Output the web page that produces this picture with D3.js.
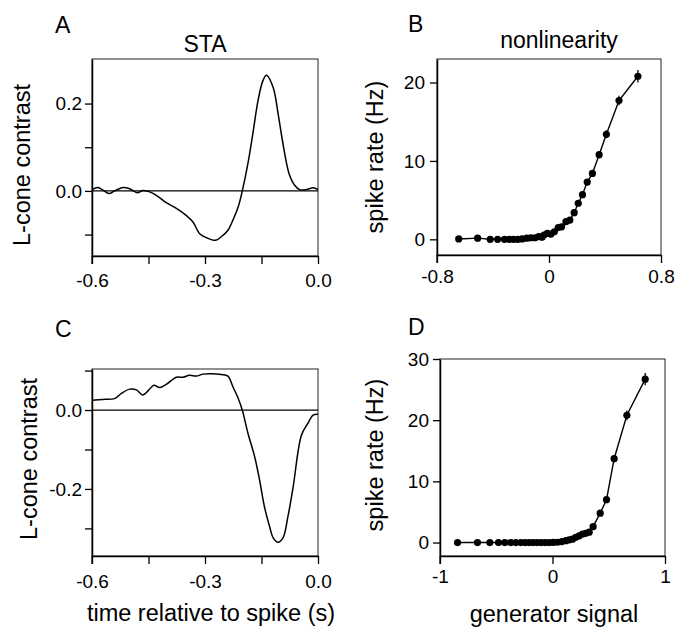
<!DOCTYPE html>
<html><head><meta charset="utf-8">
<script src="https://cdn.jsdelivr.net/npm/d3@7"></script>
<style>body{margin:0;background:#fff}svg{display:block}text{font-family:"Liberation Sans",Arial,Helvetica,sans-serif;fill:#000}</style>
</head><body>
<svg id="c" width="679" height="629"></svg>
<script>
// Panel A: STA (time s, L-cone contrast)
const staA_t = [-0.6,-0.584,-0.571,-0.555,-0.54,-0.518,-0.5,-0.48,-0.465,-0.451,-0.429,-0.403,-0.376,-0.35,-0.332,-0.314,-0.296,-0.272,-0.257,-0.239,-0.226,-0.212,-0.201,-0.186,-0.173,-0.159,-0.146,-0.137,-0.119,-0.106,-0.093,-0.077,-0.062,-0.049,-0.031,-0.013,0];
const staA_v = [0.003,0.008,0.002,-0.006,0,0.008,0.005,-0.004,0.001,-0.001,-0.01,-0.027,-0.04,-0.056,-0.071,-0.098,-0.107,-0.113,-0.105,-0.09,-0.067,-0.037,0,0.063,0.131,0.208,0.253,0.265,0.237,0.177,0.108,0.04,0.013,0.003,0.003,0.007,0.003];
// Panel C: STA
const staC_t = [-0.6,-0.571,-0.54,-0.522,-0.5,-0.482,-0.465,-0.449,-0.436,-0.42,-0.403,-0.376,-0.358,-0.341,-0.323,-0.305,-0.283,-0.257,-0.239,-0.226,-0.212,-0.201,-0.186,-0.168,-0.155,-0.142,-0.128,-0.119,-0.106,-0.093,-0.08,-0.066,-0.044,-0.027,-0.013,0];
const staC_v = [0.025,0.027,0.029,0.042,0.053,0.051,0.038,0.051,0.063,0.057,0.065,0.083,0.083,0.088,0.086,0.091,0.092,0.09,0.086,0.059,0.03,0,-0.059,-0.119,-0.178,-0.246,-0.297,-0.324,-0.335,-0.324,-0.271,-0.195,-0.064,-0.034,-0.013,-0.011];
// Panel B: nonlinearity
const nlB_x = [-0.645,-0.51,-0.42,-0.367,-0.318,-0.284,-0.254,-0.223,-0.192,-0.159,-0.13,-0.1,-0.073,-0.05,-0.036,-0.012,0.012,0.038,0.066,0.09,0.121,0.149,0.18,0.209,0.239,0.273,0.31,0.358,0.41,0.5,0.635];
const nlB_y = [0.05,0.15,0,0,0,0,0,0,0.05,0.15,0.2,0.2,0.35,0.25,0.55,0.75,0.65,0.95,1.5,1.6,2.25,2.45,3.4,4.6,5.7,7.3,8.4,10.8,13.4,17.7,20.8];
const nlB_err = [0.1,0.1,0.05,0.05,0.05,0.05,0.05,0.05,0.05,0.05,0.05,0.05,0.05,0.05,0.1,0.1,0.1,0.1,0.15,0.15,0.2,0.2,0.25,0.3,0.3,0.35,0.4,0.45,0.5,0.6,0.8];
// Panel D: nonlinearity
const nlD_x = [-0.844,-0.667,-0.557,-0.48,-0.424,-0.37,-0.326,-0.281,-0.243,-0.207,-0.172,-0.136,-0.1,-0.065,-0.03,0.006,0.044,0.083,0.119,0.148,0.178,0.207,0.237,0.267,0.296,0.326,0.361,0.424,0.48,0.548,0.661,0.824];
const nlD_y = [0,0,0,0,0,0,0,0,0,0,0,0,0,0,0,0.02,0.05,0.15,0.3,0.45,0.55,0.85,1.1,1.4,1.5,1.7,2.6,4.8,7.0,13.7,20.8,26.7];
const nlD_err = [0.05,0.05,0.05,0.05,0.05,0.05,0.05,0.05,0.05,0.05,0.05,0.05,0.05,0.05,0.05,0.05,0.05,0.1,0.1,0.1,0.15,0.15,0.2,0.2,0.2,0.25,0.3,0.4,0.5,0.6,0.8,1.0];
// Tick values / labels
const staXTicks = [-0.6,-0.45,-0.3,-0.15,0];
const staXLabels = ["-0.6","","-0.3","","0.0"];
const staAYTicks = [0.2,0.1,0,-0.1];
const staAYLabels = ["0.2","","0.0",""];
const staCYTicks = [0.1,0,-0.1,-0.2,-0.3];
const staCYLabels = ["","0.0","","-0.2",""];
const nlBXTicks = [-0.8,0,0.8]; const nlBXLabels = ["-0.8","0","0.8"];
const nlBYTicks = [0,10,20]; const nlBYLabels = ["0","10","20"];
const nlDXTicks = [-1,0,1]; const nlDXLabels = ["-1","0","1"];
const nlDYTicks = [0,10,20,30]; const nlDYLabels = ["0","10","20","30"];

const svg = d3.select("#c");

function frame(p){
  const g = svg.append("g");
  const x = d3.scaleLinear().domain(p.xd).range([p.x0,p.x1]);
  const y = d3.scaleLinear().domain(p.yd).range([p.y1,p.y0]);
  g.append("rect").attr("x",p.x0).attr("y",p.y0).attr("width",p.x1-p.x0).attr("height",p.y1-p.y0)
    .attr("fill","none").attr("stroke","#222").attr("stroke-width",1);
  const xa = d3.axisBottom(x).tickValues(p.xt).tickFormat((d,i)=>p.xl[i]).tickSize(8).tickSizeOuter(0).tickPadding(p.xpad);
  const gx = g.append("g").attr("transform",`translate(0,${p.y1})`).call(xa);
  const ya = d3.axisLeft(y).tickValues(p.yt).tickFormat((d,i)=>p.yl[i]).tickSize(7).tickSizeOuter(0).tickPadding(p.ypad);
  const gy = g.append("g").attr("transform",`translate(${p.x0},0)`).call(ya);
  [gx,gy].forEach(a=>{
    a.selectAll("path.domain").attr("stroke","#000").attr("stroke-width",1.5);
    a.selectAll(".tick line").attr("stroke","#000").attr("stroke-width",1.3);
    a.selectAll("text").attr("font-size",19).attr("font-family","Liberation Sans, Arial, sans-serif").attr("fill","#000");
  });
  g.append("line").attr("x1",p.x0).attr("x2",p.x0).attr("y1",p.y1).attr("y2",p.y1+8).attr("stroke","#000").attr("stroke-width",1.3);
  return {g,x,y};
}

function label(t,x,y,size,anchor,rot){
  const e = svg.append("text").attr("x",x).attr("y",y).attr("font-size",size).attr("text-anchor",anchor||"start").text(t);
  if(rot) e.attr("transform",`rotate(-90,${x},${y})`);
  return e;
}

function staPanel(p,ts,vs){
  const f = frame(p);
  f.g.append("line").attr("x1",p.x0).attr("x2",p.x1).attr("y1",f.y(0)).attr("y2",f.y(0)).attr("stroke","#000").attr("stroke-width",1.2);
  const line = d3.line().x((d,i)=>f.x(ts[i])).y((d,i)=>f.y(vs[i])).curve(d3.curveCatmullRom.alpha(0.5));
  f.g.append("path").datum(vs).attr("d",line).attr("fill","none").attr("stroke","#000").attr("stroke-width",1.5);
}

function nlPanel(p,xs,ys,es){
  const f = frame(p);
  const line = d3.line().x((d,i)=>f.x(xs[i])).y((d,i)=>f.y(ys[i]));
  f.g.append("path").datum(ys).attr("d",line).attr("fill","none").attr("stroke","#000").attr("stroke-width",1.4);
  f.g.selectAll("line.err").data(ys).enter().append("line").attr("class","err")
    .attr("x1",(d,i)=>f.x(xs[i])).attr("x2",(d,i)=>f.x(xs[i]))
    .attr("y1",(d,i)=>f.y(d-es[i])).attr("y2",(d,i)=>f.y(d+es[i]))
    .attr("stroke","#000").attr("stroke-width",1.3);
  f.g.selectAll("circle").data(ys).enter().append("circle")
    .attr("cx",(d,i)=>f.x(xs[i])).attr("cy",d=>f.y(d)).attr("r",3.6).attr("fill","#000");
}

staPanel({x0:92,x1:318,y0:59,y1:256,xd:[-0.6,0],yd:[-0.149,0.302],xt:staXTicks,xl:staXLabels,yt:staAYTicks,yl:staAYLabels,xpad:10,ypad:3},staA_t,staA_v);
nlPanel({x0:437,x1:661,y0:59,y1:255,xd:[-0.8,0.8],yd:[-2,23],xt:nlBXTicks,xl:nlBXLabels,yt:nlBYTicks,yl:nlBYLabels,xpad:7,ypad:5},nlB_x,nlB_y,nlB_err);
staPanel({x0:92,x1:318,y0:369,y1:556,xd:[-0.6,0],yd:[-0.37,0.104],xt:staXTicks,xl:staXLabels,yt:staCYTicks,yl:staCYLabels,xpad:11,ypad:3},staC_t,staC_v);
nlPanel({x0:440,x1:665,y0:359,y1:556,xd:[-1,1],yd:[-2.2,30],xt:nlDXTicks,xl:nlDXLabels,yt:nlDYTicks,yl:nlDYLabels,xpad:6,ypad:4},nlD_x,nlD_y,nlD_err);

label("A",55,33,23);
label("B",408,32,23);
label("C",55,337,23);
label("D",408,335,23);
label("STA",205,52,23,"middle");
label("nonlinearity",559,48,23,"middle");
label("L-cone contrast",30,165,23.5,"middle",true);
label("L-cone contrast",37,459,23.5,"middle",true);
label("spike rate (Hz)",383,157,23.5,"middle",true);
label("spike rate (Hz)",383,455,23.5,"middle",true);
label("time relative to spike (s)",211,621,23.5,"middle");
label("generator signal",554,622,23.5,"middle");
</script>
</body></html>
